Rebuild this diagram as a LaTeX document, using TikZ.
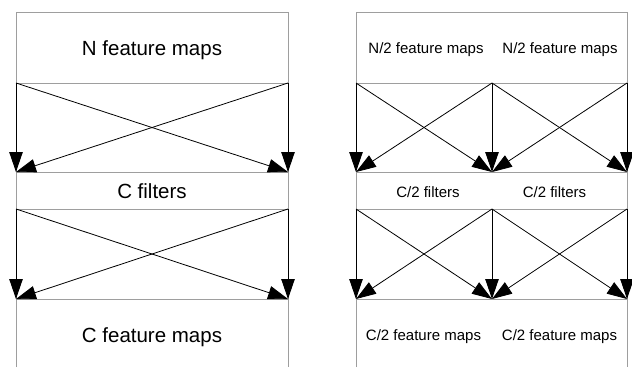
\documentclass[tikz,border=0pt]{standalone}
\usepackage{fontspec}
\setmainfont{Liberation Sans}
\usetikzlibrary{arrows.meta}
\begin{document}
\begin{tikzpicture}[x=1pt,y=-1pt,
  boxline/.style={draw=black!38,line width=0.9pt},
  conn/.style={draw=black,line width=0.8pt,-{Triangle[length=20pt,width=13.5pt]}},
  bigtxt/.style={anchor=base,inner sep=0pt,font=\fontsize{20.5}{24}\selectfont},
  smalltxt/.style={anchor=base,inner sep=0pt,font=\fontsize{15}{18}\selectfont}]
\useasboundingbox (0,0) rectangle (632,367);
% left panel lines
\draw[boxline] (16,367) -- (16,12) -- (288,12) -- (288,367);
\foreach \yy in {83,172,209,299}{\draw[boxline] (16,\yy) -- (288,\yy);}
% right panel lines
\draw[boxline] (356,367) -- (356,12) -- (627,12) -- (627,367);
\foreach \yy in {83,172,209,299}{\draw[boxline] (356,\yy) -- (627,\yy);}
% coordinates left
\coordinate (LA1) at (16,83);  \coordinate (LA2) at (288,83);
\coordinate (LB1) at (16,172); \coordinate (LB2) at (288,172);
\coordinate (LC1) at (16,209); \coordinate (LC2) at (288,209);
\coordinate (LD1) at (16,299); \coordinate (LD2) at (288,299);
% coordinates right
\coordinate (RA1) at (356,83);  \coordinate (RA2) at (492,83);  \coordinate (RA3) at (627,83);
\coordinate (RB1) at (356,172); \coordinate (RB2) at (492,172); \coordinate (RB3) at (627,172);
\coordinate (RC1) at (356,209); \coordinate (RC2) at (492,209); \coordinate (RC3) at (627,209);
\coordinate (RD1) at (356,299); \coordinate (RD2) at (492,299); \coordinate (RD3) at (627,299);
% left arrows
\draw[conn] (LA1) -- (LB1);
\draw[conn] (LA1) -- (LB2);
\draw[conn] (LA2) -- (LB2);
\draw[conn] (LA2) -- (LB1);
\draw[conn] (LC1) -- (LD1);
\draw[conn] (LC1) -- (LD2);
\draw[conn] (LC2) -- (LD2);
\draw[conn] (LC2) -- (LD1);
% right arrows
\draw[conn] (RA1) -- (RB1);
\draw[conn] (RA1) -- (RB2);
\draw[conn] (RA2) -- (RB1);
\draw[conn] (RA2) -- (RB2);
\draw[conn] (RA2) -- (RB3);
\draw[conn] (RA3) -- (RB2);
\draw[conn] (RA3) -- (RB3);
\draw[conn] (RC1) -- (RD1);
\draw[conn] (RC1) -- (RD2);
\draw[conn] (RC2) -- (RD1);
\draw[conn] (RC2) -- (RD2);
\draw[conn] (RC2) -- (RD3);
\draw[conn] (RC3) -- (RD2);
\draw[conn] (RC3) -- (RD3);
% texts
\node[bigtxt] (nfm) at (152,55) {N feature maps};
\node[bigtxt] (cf) at (152,198) {C filters};
\node[bigtxt] (cfm) at (152,342) {C feature maps};
\node[smalltxt] (nfm1) at (426,53) {N/2 feature maps};
\node[smalltxt] (nfm2) at (560,53) {N/2 feature maps};
\node[smalltxt] (cf1) at (428,197) {C/2 filters};
\node[smalltxt] (cf2) at (554.5,197) {C/2 filters};
\node[smalltxt] (cfm1) at (423.5,340) {C/2 feature maps};
\node[smalltxt] (cfm2) at (559.5,340) {C/2 feature maps};
\end{tikzpicture}
\end{document}
